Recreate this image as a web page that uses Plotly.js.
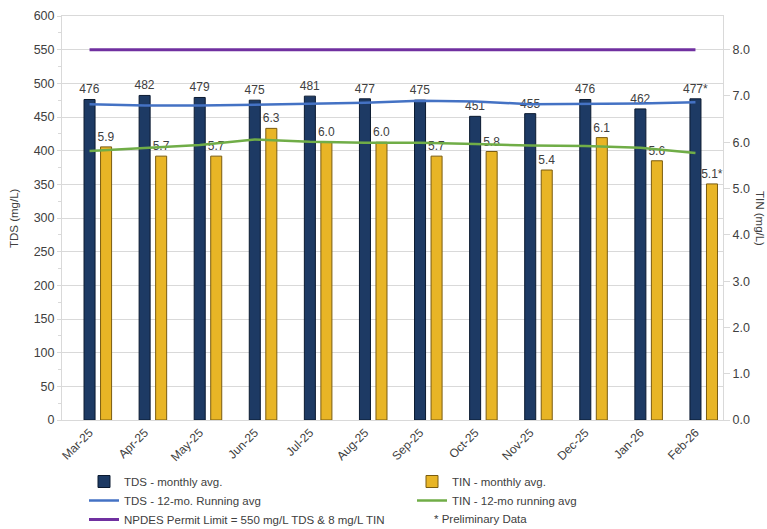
<!DOCTYPE html>
<html>
<head>
<meta charset="utf-8">
<script src="https://cdn.plot.ly/plotly-3.0.1.min.js"></script>
<style>html,body{margin:0;padding:0;background:#fff;} #chart{width:767px;height:529px;}</style>
</head>
<body>
<div id="chart"></div>
<script>
var months = ['Mar-25','Apr-25','May-25','Jun-25','Jul-25','Aug-25','Sep-25','Oct-25','Nov-25','Dec-25','Jan-26','Feb-26'];
var tdsMonthly = [476,482,479,475,481,477,475,451,455,476,462,477];
var tinMonthly = [5.9,5.7,5.7,6.3,6.0,6.0,5.7,5.8,5.4,6.1,5.6,5.1];
var tdsLabels = ['476','482','479','475','481','477','475','451','455','476','462','477*'];
var tinLabels = ['5.9','5.7','5.7','6.3','6.0','6.0','5.7','5.8','5.4','6.1','5.6','5.1*'];
var tdsRunning = [469,467,467,468,469,471,474,473,469,469,470,472];
var tinRunning = [5.81,5.87,5.94,6.06,6.01,5.99,5.99,5.96,5.93,5.92,5.88,5.77];
var permitTds = [550,550,550,550,550,550,550,550,550,550,550,550];

var FONT = 'Liberation Sans, Arial, sans-serif';
var TXT = '#404040';

var traces = [
  {
    type: 'bar', name: 'TDS - monthly avg.', x: months, y: tdsMonthly,
    width: 0.2, offset: -0.1,
    marker: {color: '#1d3a64', line: {color: '#0b1a30', width: 1}},
    text: tdsLabels, textposition: 'outside', cliponaxis: false, constraintext: 'none',
    textfont: {family: FONT, size: 12, color: TXT},
    legend: 'legend', legendrank: 1
  },
  {
    type: 'bar', name: 'TIN - monthly avg.', x: months, y: tinMonthly, yaxis: 'y2',
    width: 0.2, offset: 0.2,
    marker: {color: '#e8b526', line: {color: '#7a5c10', width: 1}},
    text: tinLabels, textposition: 'outside', cliponaxis: false, constraintext: 'none',
    textfont: {family: FONT, size: 12, color: TXT},
    legend: 'legend2', legendrank: 1
  },
  {
    type: 'scatter', mode: 'lines', name: 'TDS - 12-mo. Running avg', x: months, y: tdsRunning,
    line: {color: '#4472c4', width: 2.5}, legend: 'legend', legendrank: 2
  },
  {
    type: 'scatter', mode: 'lines', name: 'TIN - 12-mo running avg', x: months, y: tinRunning, yaxis: 'y2',
    line: {color: '#70ad47', width: 2.5}, legend: 'legend2', legendrank: 2
  },
  {
    type: 'scatter', mode: 'lines', name: 'NPDES Permit Limit = 550 mg/L TDS & 8 mg/L TIN', x: months, y: permitTds,
    line: {color: '#7030a0', width: 3}, legend: 'legend', legendrank: 3
  }
];

var legendBase = {
  orientation: 'v', xref: 'container', yref: 'container',
  xanchor: 'left', yanchor: 'top',
  font: {family: FONT, size: 11.5, color: TXT},
  itemwidth: 30, tracegroupgap: 0, traceorder: 'normal',
  bgcolor: 'rgba(0,0,0,0)', borderwidth: 0
};

var layout = {
  width: 767, height: 529,
  margin: {l: 62, r: 44, t: 16, b: 109, autoexpand: false},
  paper_bgcolor: '#ffffff', plot_bgcolor: '#ffffff',
  font: {family: FONT, size: 12, color: TXT},
  showlegend: true,
  barmode: 'overlay',
  xaxis: {
    type: 'category', tickangle: -45, automargin: false,
    tickfont: {family: FONT, size: 12, color: TXT},
    showline: true, linecolor: '#d9d9d9', linewidth: 1, mirror: true,
    showgrid: false, ticks: '', range: [-0.5, 11.5]
  },
  yaxis: {
    range: [0, 600], dtick: 50, tick0: 0, automargin: false,
    tickfont: {family: FONT, size: 12.5, color: TXT},
    showgrid: true, gridcolor: '#d9d9d9', gridwidth: 1,
    showline: true, linecolor: '#d9d9d9', linewidth: 1,
    ticks: 'outside', ticklen: 4, tickcolor: '#d9d9d9',
    minor: {dtick: 25, ticks: 'outside', ticklen: 3, tickcolor: '#d9d9d9', showgrid: false},
    zeroline: false
  },
  yaxis2: {
    overlaying: 'y', side: 'right', automargin: false,
    range: [0, 600 * 8 / 550], dtick: 1, tick0: 0, tickformat: '.1f',
    tickfont: {family: FONT, size: 12.5, color: TXT},
    showgrid: false, zeroline: false,
    showline: true, linecolor: '#d9d9d9', linewidth: 1,
    ticks: 'outside', ticklen: 6, tickcolor: '#d9d9d9'
  },
  legend: Object.assign({}, legendBase, {x: 84 / 767, y: 1 - 467 / 529}),
  legend2: Object.assign({}, legendBase, {x: 412 / 767, y: 1 - 467 / 529}),
  annotations: [
    {text: 'TDS (mg/L)', xref: 'paper', yref: 'paper', x: (14 - 62) / 661, y: 0.5, xanchor: 'center', yanchor: 'middle',
     textangle: -90, showarrow: false, font: {family: FONT, size: 11.5, color: TXT}},
    {text: 'TIN (mg/L)', xref: 'paper', yref: 'paper', x: (760 - 62) / 661, y: 0.5, xanchor: 'center', yanchor: 'middle',
     textangle: 90, showarrow: false, font: {family: FONT, size: 11.5, color: TXT}},
    {text: '* Preliminary Data', xref: 'paper', yref: 'paper', x: (432 - 62) / 661, y: (420 - 519) / 404, xanchor: 'left', yanchor: 'middle',
     showarrow: false, font: {family: FONT, size: 11.5, color: TXT}}
  ]
};

Plotly.newPlot('chart', traces, layout, {displayModeBar: false, staticPlot: true});
</script>
</body>
</html>
